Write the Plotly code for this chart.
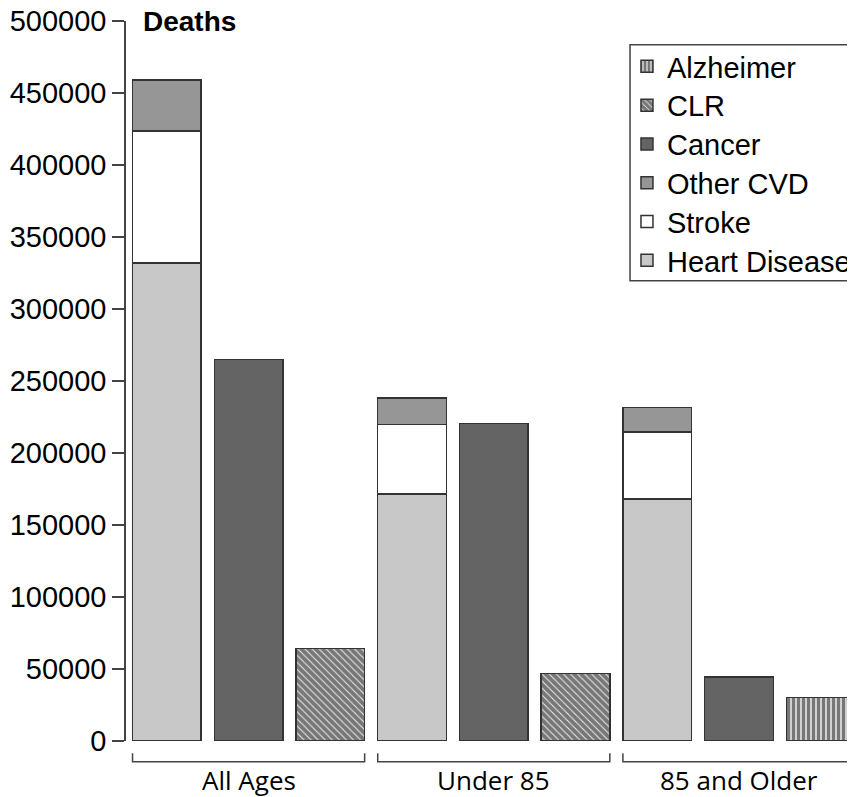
import plotly.graph_objects as go

# ---- data ----
groups = ["All Ages", "Under 85", "85 and Older"]
heart_disease = [331900, 171700, 168100]
stroke = [91700, 48000, 46500]
other_cvd = [35400, 18500, 17100]
cancer = [264800, 220400, 44600]
clr_groups = ["All Ages", "Under 85"]
clr = [64400, 47000]
alz_groups = ["85 and Older"]
alzheimer = [30300]
y_ticks = [0, 50000, 100000, 150000, 200000, 250000, 300000, 350000, 400000, 450000, 500000]
legend_order = ["Alzheimer", "CLR", "Cancer", "Other CVD", "Stroke", "Heart Disease"]

SLOTS = 3  # bars per group: CVD stack, cancer, third cause


def pos(group, slot):
    return groups.index(group) * SLOTS + slot


LINE = dict(color="#333333", width=1.5)
AX = "#444444"
SANS = "Liberation Sans, Arial, Helvetica, sans-serif"
TICKFONT = dict(family=SANS, size=29, color="black")
LEGFONT = dict(family=SANS, size=29, color="black")


def leg(name):
    i = legend_order.index(name)
    return "legend" if i == 0 else f"legend{i + 1}"


fig = go.Figure()
fig.add_trace(go.Bar(name="Heart Disease", legend=leg("Heart Disease"),
                     x=[pos(g, 0) for g in groups], y=heart_disease,
                     marker=dict(color="#c8c8c8", line=LINE)))
fig.add_trace(go.Bar(name="Stroke", legend=leg("Stroke"),
                     x=[pos(g, 0) for g in groups], y=stroke,
                     marker=dict(color="#ffffff", line=LINE)))
fig.add_trace(go.Bar(name="Other CVD", legend=leg("Other CVD"),
                     x=[pos(g, 0) for g in groups], y=other_cvd,
                     marker=dict(color="#969696", line=LINE)))
fig.add_trace(go.Bar(name="Cancer", legend=leg("Cancer"),
                     x=[pos(g, 1) for g in groups], y=cancer,
                     marker=dict(color="#646464", line=LINE)))
fig.add_trace(go.Bar(name="CLR", legend=leg("CLR"),
                     x=[pos(g, 2) for g in clr_groups], y=clr,
                     marker=dict(color="#ffffff", line=LINE,
                                 pattern=dict(shape="\\", fgcolor="#000000", bgcolor="#eeeeee",
                                              size=5, solidity=0.8))))
fig.add_trace(go.Bar(name="Alzheimer", legend=leg("Alzheimer"),
                     x=[pos(g, 2) for g in alz_groups], y=alzheimer,
                     marker=dict(color="#ffffff", line=LINE,
                                 pattern=dict(shape="|", fgcolor="#000000", bgcolor="#eeeeee",
                                              size=5, solidity=0.7))))

# group brackets and labels under the x axis
half = 0.42
for g in groups:
    x0 = pos(g, 0) - half
    x1 = pos(g, SLOTS - 1) + half
    fig.add_shape(type="path", xref="x", yref="paper",
                  path=f"M {x0},-0.017 L {x0},-0.0288 L {x1},-0.0288 L {x1},-0.017",
                  line=dict(color=AX, width=1.5))
    fig.add_annotation(x=pos(g, 1), xref="x", y=-0.0545, yref="paper", text=g,
                       showarrow=False, xanchor="center", yanchor="middle",
                       font=dict(family="Open Sans, sans-serif", size=26, color="black"))

fig.add_annotation(x=0.02, xref="paper", y=1.0, yref="paper", text="<b>Deaths</b>",
                   showarrow=False, xanchor="left", yanchor="middle",
                   font=dict(family=SANS, size=28, color="black"))

# legend frame (runs past the right edge of the picture, as in the reference)
fig.add_shape(type="rect", xref="paper", yref="paper", x0=0.6914, x1=1.1,
              y0=0.6393, y1=0.9671, line=dict(color=AX, width=1.5))

# the page body has an 8px margin: the figure starts at (8, 8); the plot area
# is placed so it spans x 126..855 and y 21..741 of the window
PLOT_TOP, PLOT_H = 21, 720
layout_legends = {}
for i, name in enumerate(legend_order):
    yc = 66.5 + i * 38.8
    key = "legend" if i == 0 else f"legend{i + 1}"
    layout_legends[key] = dict(x=0.6872, y=(PLOT_TOP + PLOT_H - yc) / PLOT_H,
                               xanchor="left", yanchor="middle", borderwidth=0,
                               bgcolor="rgba(0,0,0,0)", font=LEGFONT, itemwidth=30)

fig.update_layout(
    width=847, height=789,
    margin=dict(l=118, r=0, t=13, b=56, autoexpand=False),
    barmode="stack", bargap=0.16,
    plot_bgcolor="white", paper_bgcolor="white",
    font=TICKFONT,
    showlegend=True,
    xaxis=dict(range=[-0.5, 8.42], showticklabels=False, ticks="", showline=False,
               showgrid=False, zeroline=False, automargin=False),
    yaxis=dict(range=[0, 500000], tickvals=y_ticks, ticks="outside", ticklen=12,
               tickcolor=AX, tickwidth=1.5, showline=True, linecolor=AX, linewidth=1.5,
               showgrid=False, zeroline=False, tickfont=TICKFONT, tickformat="d",
               ticklabeloverflow="allow", automargin=False),
    **layout_legends,
)

fig.write_html("out.html")
